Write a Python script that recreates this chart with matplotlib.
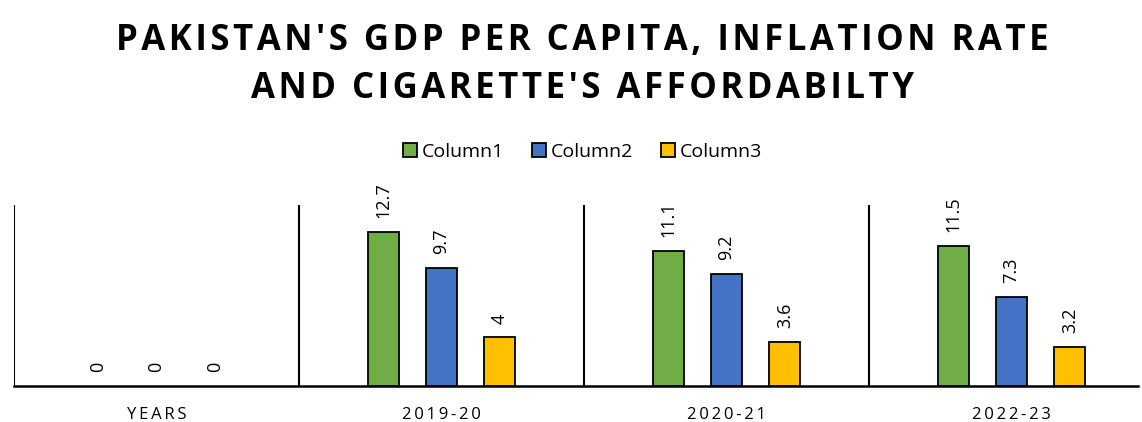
import matplotlib.pyplot as plt
import numpy as np

years = ['YEARS', '2019-20', '2020-21', '2022-23']
col1 = [0, 12.7, 11.1, 11.5]
col2 = [0, 9.7, 9.2, 7.3]
col3 = [0, 4, 3.6, 3.2]
series_names = ['Column1', 'Column2', 'Column3']
colors = ['#70AD47', '#4472C4', '#FFC000']


def spaced(s, sep='\u2009'):
    return sep.join(s)


fig = plt.figure(figsize=(11.42, 4.22), dpi=100)
ax = fig.add_axes([14 / 1142, 36 / 422, 1124 / 1142, 181 / 422])

x = np.arange(len(years))
width = 0.109
step = 0.205
for i, (vals, name, c) in enumerate(zip([col1, col2, col3], series_names, colors)):
    pos = x + (i - 1) * step
    lws = [1.3 if v else 0 for v in vals]
    ax.bar(pos, vals, width, color=c, edgecolor='black', linewidth=lws,
           label=name, zorder=3)
    for p, v in zip(pos, vals):
        ax.annotate(f'{v:g}', (p, v), xytext=(0, 10), textcoords='offset points',
                    rotation=90, ha='center', va='bottom', fontsize=13,
                    family='Open Sans')

ax.set_xlim(-0.5, 3.444)
ax.set_ylim(0, 14.9)
for b in np.arange(-0.5, 3, 1):
    ax.axvline(b, color='black', lw=1.5, zorder=2)

for s in ['top', 'right', 'left']:
    ax.spines[s].set_visible(False)
ax.spines['bottom'].set_linewidth(1.8)
ax.set_yticks([])
ax.set_xticks(x)
ax.set_xticklabels([spaced(y) for y in years], fontsize=12,
                   family=['Open Sans', 'DejaVu Sans'])
ax.tick_params(axis='x', length=0, pad=15)

title = "PAKISTAN'S GDP PER CAPITA, INFLATION RATE\nAND CIGARETTE'S AFFORDABILTY"
title = '\n'.join(spaced(line, '\u200a') for line in title.split('\n'))
fig.text(0.51, 0.846, title,
         ha='center', va='center', fontsize=25, fontweight='bold',
         family=['Open Sans', 'DejaVu Sans'], linespacing=1.45)

leg = fig.legend(loc='center', bbox_to_anchor=(0.51, 0.64), ncol=3, frameon=False,
                 prop={'family': 'Open Sans', 'size': 14}, handlelength=0.75,
                 handleheight=0.75, handletextpad=0.25, columnspacing=1.4)
for h in leg.legend_handles:
    h.set_linewidth(1.3)
    h.set_edgecolor('black')

fig.savefig('out.png', dpi=100)
